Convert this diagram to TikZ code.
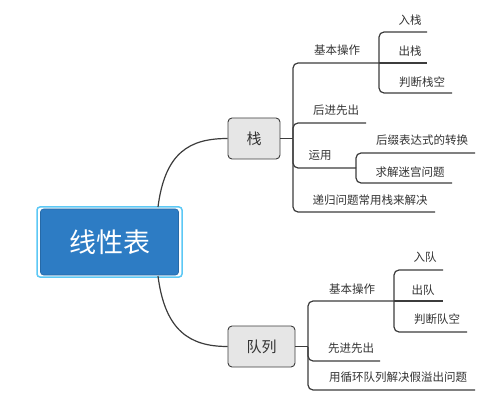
\documentclass[tikz,border=0pt]{standalone}
\usepackage{fontspec}
\newfontfamily\cjk{Noto Sans CJK SC}
\definecolor{txt}{HTML}{333333}
\definecolor{ln}{HTML}{3C3C3C}
\definecolor{boxgray}{HTML}{E6E6E6}
\definecolor{rootblue}{HTML}{2D7CC4}
\definecolor{glowc}{HTML}{5CC8F5}
\begin{document}
\begin{tikzpicture}[x=1pt,y=-1pt,
  conn/.style={draw=ln,line width=1.2pt,rounded corners=5pt},
  leaf/.style={font=\cjk\fontsize{11.5}{13}\selectfont,text=txt,inner sep=0pt},
  topic/.style={font=\cjk\fontsize{15}{17}\selectfont,text=txt,fill=boxgray,draw=ln,line width=0.9pt,rounded corners=4pt,minimum height=41pt,inner sep=0pt},
  rootbox/.style={font=\cjk\fontsize{27}{30}\selectfont,text=white,fill=rootblue,draw=rootblue!85!black,line width=0.6pt,rounded corners=3pt,minimum width=138pt,minimum height=66pt,inner sep=0pt},
  glow/.style={draw=glowc,line width=1.5pt,rounded corners=3pt,minimum width=145pt,minimum height=70pt,inner sep=0pt}]
\useasboundingbox (0,0) rectangle (501,409);
% root
\node[glow] (rootglow) at (109.5,242) {};
\node[rootbox] (root) at (109.5,242) {线性表};
% main topics
\node[topic,minimum width=52pt] (zhan) at (254,138.5) {栈};
\node[topic,minimum width=67pt] (duilie) at (261.5,346.5) {队列};
% root curves
\coordinate (rt) at (158,207);
\coordinate (rb) at (158,276);
\draw[conn] (rt) .. controls (165,152) and (190,138.5) .. (zhan.west);
\draw[conn] (rb) .. controls (165,331) and (190,346.5) .. (duilie.west);
% stack branch junctions
\coordinate (j1) at (293,138.5);
\coordinate (k1) at (379,63);
\coordinate (k2) at (356,168);
\coordinate (e11) at (427,32);
\coordinate (e12) at (427,63);
\coordinate (e13) at (452,93);
\coordinate (e2) at (366,123);
\coordinate (e31) at (475,153);
\coordinate (e32) at (452,183);
\coordinate (e4) at (435,212);
\draw[conn] (zhan.east) -- (j1);
\draw[conn] (j1) |- (k1);
\draw[conn] (k1) |- (e11);
\draw[conn] (k1) -- (e12);
\draw[conn] (k1) |- (e13);
\draw[conn] (j1) |- (e2);
\draw[conn] (j1) |- (k2);
\draw[conn] (k2) |- (e31);
\draw[conn] (k2) |- (e32);
\draw[conn] (j1) |- (e4);
% stack labels
\node[leaf] (s1) at (337,50) {基本操作};
\node[leaf] (s11) at (410,20) {入栈};
\node[leaf] (s12) at (410,51) {出栈};
\node[leaf] (s13) at (422,82) {判断栈空};
\node[leaf] (s2) at (336,110) {后进先出};
\node[leaf] (s3) at (320,155) {运用};
\node[leaf] (s31) at (422,140) {后缀表达式的转换};
\node[leaf] (s32) at (410,172) {求解迷宫问题};
\node[leaf] (s4) at (370,200) {递归问题常用栈来解决};
% queue branch junctions
\coordinate (j2) at (308,346.5);
\coordinate (q1) at (394,301);
\coordinate (f11) at (443,270);
\coordinate (f12) at (443,301);
\coordinate (f13) at (467,332);
\coordinate (f2) at (380,361);
\coordinate (f3) at (475,390);
\draw[conn] (duilie.east) -- (j2);
\draw[conn] (j2) |- (q1);
\draw[conn] (q1) |- (f11);
\draw[conn] (q1) -- (f12);
\draw[conn] (q1) |- (f13);
\draw[conn] (j2) |- (f2);
\draw[conn] (j2) |- (f3);
% queue labels
\node[leaf] (d1) at (352,289) {基本操作};
\node[leaf] (d11) at (425,257) {入队};
\node[leaf] (d12) at (423,290) {出队};
\node[leaf] (d13) at (437,319) {判断队空};
\node[leaf] (d2) at (351,348) {先进先出};
\node[leaf] (d3) at (398,377) {用循环队列解决假溢出问题};
\end{tikzpicture}
\end{document}
